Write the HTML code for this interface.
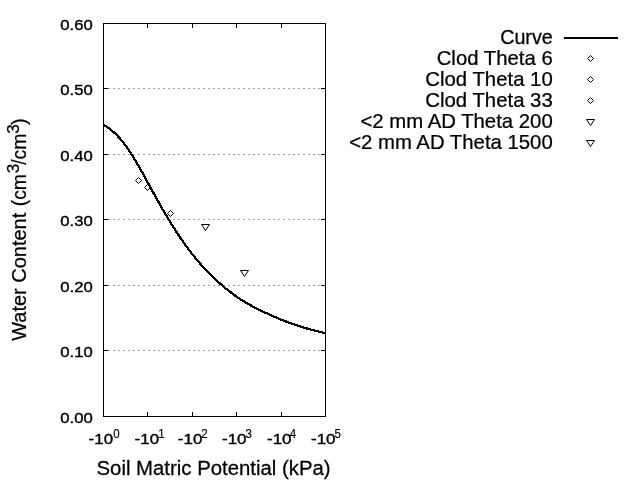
<!DOCTYPE html>
<html><head><meta charset="utf-8"><title>Water Retention Curve</title>
<style>
html,body{margin:0;padding:0;background:#fff;}
body{width:640px;height:480px;overflow:hidden;}
svg{display:block;font-family:"Liberation Sans",Arial,sans-serif;fill:#000;}
.ax{stroke:#000;stroke-width:1;fill:none;shape-rendering:crispEdges;}
.grid{stroke:#a0a0a0;stroke-width:1;stroke-dasharray:2 3;fill:none;shape-rendering:crispEdges;}
.mk{stroke:#000;stroke-width:1;fill:none;}
text{stroke:#000;stroke-width:0.25;}
.tk{stroke-width:0.4;}
.sp{stroke-width:0.15;}
</style></head><body>
<svg width="640" height="480" viewBox="0 0 640 480">
<rect x="0" y="0" width="640" height="480" fill="#fff"/>
<line class="grid" x1="108" y1="350.5" x2="321" y2="350.5"/>
<line class="grid" x1="108" y1="285.5" x2="321" y2="285.5"/>
<line class="grid" x1="108" y1="219.5" x2="321" y2="219.5"/>
<line class="grid" x1="108" y1="154.5" x2="321" y2="154.5"/>
<line class="grid" x1="108" y1="88.5" x2="321" y2="88.5"/>
<rect class="ax" x="103.5" y="23.5" width="222.0" height="393.0"/>
<line class="ax" x1="103.5" y1="416.5" x2="108.0" y2="416.5"/>
<line class="ax" x1="325.5" y1="416.5" x2="321.0" y2="416.5"/>
<text class="tk" transform="translate(92.7,422.5) scale(1.09,1)" font-size="15.3" text-anchor="end">0.00</text>
<line class="ax" x1="103.5" y1="350.5" x2="108.0" y2="350.5"/>
<line class="ax" x1="325.5" y1="350.5" x2="321.0" y2="350.5"/>
<text class="tk" transform="translate(92.7,356.5) scale(1.09,1)" font-size="15.3" text-anchor="end">0.10</text>
<line class="ax" x1="103.5" y1="285.5" x2="108.0" y2="285.5"/>
<line class="ax" x1="325.5" y1="285.5" x2="321.0" y2="285.5"/>
<text class="tk" transform="translate(92.7,291.5) scale(1.09,1)" font-size="15.3" text-anchor="end">0.20</text>
<line class="ax" x1="103.5" y1="219.5" x2="108.0" y2="219.5"/>
<line class="ax" x1="325.5" y1="219.5" x2="321.0" y2="219.5"/>
<text class="tk" transform="translate(92.7,225.5) scale(1.09,1)" font-size="15.3" text-anchor="end">0.30</text>
<line class="ax" x1="103.5" y1="154.5" x2="108.0" y2="154.5"/>
<line class="ax" x1="325.5" y1="154.5" x2="321.0" y2="154.5"/>
<text class="tk" transform="translate(92.7,160.5) scale(1.09,1)" font-size="15.3" text-anchor="end">0.40</text>
<line class="ax" x1="103.5" y1="88.5" x2="108.0" y2="88.5"/>
<line class="ax" x1="325.5" y1="88.5" x2="321.0" y2="88.5"/>
<text class="tk" transform="translate(92.7,94.5) scale(1.09,1)" font-size="15.3" text-anchor="end">0.50</text>
<line class="ax" x1="103.5" y1="23.5" x2="108.0" y2="23.5"/>
<line class="ax" x1="325.5" y1="23.5" x2="321.0" y2="23.5"/>
<text class="tk" transform="translate(92.7,29.5) scale(1.09,1)" font-size="15.3" text-anchor="end">0.60</text>
<line class="ax" x1="103.5" y1="23.5" x2="103.5" y2="28.0"/>
<line class="ax" x1="103.5" y1="416.5" x2="103.5" y2="412.0"/>
<text class="tk" transform="translate(88.6,443.5) scale(1.095,1)" font-size="15.5">-10</text>
<text class="sp" transform="translate(113.2,437.6) scale(0.92,1)" font-size="12.5">0</text>
<line class="ax" x1="147.5" y1="23.5" x2="147.5" y2="28.0"/>
<line class="ax" x1="147.5" y1="416.5" x2="147.5" y2="412.0"/>
<text class="tk" transform="translate(134.6,443.5) scale(1.095,1)" font-size="15.5">-10</text>
<text class="sp" transform="translate(158.2,437.6) scale(0.92,1)" font-size="12.5">1</text>
<line class="ax" x1="192.5" y1="23.5" x2="192.5" y2="28.0"/>
<line class="ax" x1="192.5" y1="416.5" x2="192.5" y2="412.0"/>
<text class="tk" transform="translate(177.8,443.5) scale(1.095,1)" font-size="15.5">-10</text>
<text class="sp" transform="translate(201.2,437.6) scale(0.92,1)" font-size="12.5">2</text>
<line class="ax" x1="236.5" y1="23.5" x2="236.5" y2="28.0"/>
<line class="ax" x1="236.5" y1="416.5" x2="236.5" y2="412.0"/>
<text class="tk" transform="translate(222.0,443.5) scale(1.095,1)" font-size="15.5">-10</text>
<text class="sp" transform="translate(245.4,437.6) scale(0.92,1)" font-size="12.5">3</text>
<line class="ax" x1="281.5" y1="23.5" x2="281.5" y2="28.0"/>
<line class="ax" x1="281.5" y1="416.5" x2="281.5" y2="412.0"/>
<text class="tk" transform="translate(267.0,443.5) scale(1.095,1)" font-size="15.5">-10</text>
<text class="sp" transform="translate(289.7,437.6) scale(0.92,1)" font-size="12.5">4</text>
<line class="ax" x1="325.5" y1="23.5" x2="325.5" y2="28.0"/>
<line class="ax" x1="325.5" y1="416.5" x2="325.5" y2="412.0"/>
<text class="tk" transform="translate(311.0,443.5) scale(1.095,1)" font-size="15.5">-10</text>
<text class="sp" transform="translate(334.4,437.6) scale(0.92,1)" font-size="12.5">5</text>
<path d="M103.50,124.90 L105.72,126.20 L107.94,127.66 L110.16,129.27 L112.38,131.06 L114.60,133.03 L116.82,135.18 L119.04,137.52 L121.26,140.05 L123.48,142.77 L125.70,145.67 L127.92,148.81 L130.14,152.11 L132.36,155.57 L134.58,159.17 L136.80,162.90 L139.02,166.73 L141.24,170.65 L143.46,174.64 L145.68,178.69 L147.90,182.76 L150.12,186.81 L152.34,190.85 L154.56,194.88 L156.78,198.89 L159.00,202.86 L161.22,206.78 L163.44,210.65 L165.66,214.45 L167.88,218.19 L170.10,221.85 L172.32,225.44 L174.54,228.95 L176.76,232.38 L178.98,235.73 L181.20,239.00 L183.42,242.18 L185.64,245.28 L187.86,248.30 L190.08,251.23 L192.30,254.09 L194.52,256.87 L196.74,259.57 L198.96,262.19 L201.18,264.73 L203.40,267.21 L205.62,269.61 L207.84,271.94 L210.06,274.21 L212.28,276.41 L214.50,278.54 L216.72,280.61 L218.94,282.62 L221.16,284.57 L223.38,286.47 L225.60,288.30 L227.82,290.09 L230.04,291.81 L232.26,293.49 L234.48,295.12 L236.70,296.70 L238.92,298.18 L241.14,299.62 L243.36,301.02 L245.58,302.37 L247.80,303.68 L250.02,304.95 L252.24,306.18 L254.46,307.37 L256.68,308.52 L258.90,309.64 L261.12,310.73 L263.34,311.78 L265.56,312.79 L267.78,313.78 L270.00,314.73 L272.22,315.76 L274.44,316.75 L276.66,317.72 L278.88,318.66 L281.10,319.57 L283.32,320.46 L285.54,321.32 L287.76,322.16 L289.98,322.98 L292.20,323.77 L294.42,324.54 L296.64,325.29 L298.86,326.01 L301.08,326.72 L303.30,327.40 L305.52,328.07 L307.74,328.71 L309.96,329.34 L312.18,329.95 L314.40,330.55 L316.62,331.13 L318.84,331.69 L321.06,332.24 L323.28,332.77 L325.50,333.29" stroke="#000" stroke-width="2.25" fill="none" stroke-linejoin="round" shape-rendering="crispEdges"/>
<path class="mk" d="M135.5,180.5 L138.5,177.5 L141.5,180.5 L138.5,183.5 Z"/>
<path class="mk" d="M144.5,187.5 L147.5,184.5 L150.5,187.5 L147.5,190.5 Z"/>
<path class="mk" d="M167.5,213.5 L170.5,210.5 L173.5,213.5 L170.5,216.5 Z"/>
<path class="mk" d="M201.5,224.5 L209.5,224.5 L205.5,230.5 Z"/>
<path class="mk" d="M240.5,270.5 L248.5,270.5 L244.5,276.5 Z"/>
<text transform="translate(552.7,44.2) scale(0.985,1)" font-size="20" text-anchor="end">Curve</text>
<line x1="564" y1="38" x2="618" y2="38" stroke="#000" stroke-width="2" shape-rendering="crispEdges"/>
<text transform="translate(552.7,65.2) scale(1.017,1)" font-size="20" text-anchor="end">Clod Theta 6</text>
<path class="mk" d="M587.5,58.5 L590.5,55.5 L593.5,58.5 L590.5,61.5 Z"/>
<text transform="translate(552.7,86.2) scale(1.017,1)" font-size="20" text-anchor="end">Clod Theta 10</text>
<path class="mk" d="M587.5,79.5 L590.5,76.5 L593.5,79.5 L590.5,82.5 Z"/>
<text transform="translate(552.7,107.2) scale(1.017,1)" font-size="20" text-anchor="end">Clod Theta 33</text>
<path class="mk" d="M587.5,100.5 L590.5,97.5 L593.5,100.5 L590.5,103.5 Z"/>
<text transform="translate(552.7,128.2) scale(1.017,1)" font-size="20" text-anchor="end">&lt;2 mm AD Theta 200</text>
<path class="mk" d="M586.5,119.5 L594.5,119.5 L590.5,125.5 Z"/>
<text transform="translate(552.7,149.2) scale(1.017,1)" font-size="20" text-anchor="end">&lt;2 mm AD Theta 1500</text>
<path class="mk" d="M586.5,140.5 L594.5,140.5 L590.5,146.5 Z"/>
<text transform="translate(96.5,474.8) scale(1.018,1)" font-size="20">Soil Matric Potential (kPa)</text>
<g transform="translate(26,340.8) rotate(-90)">
<text transform="translate(0,0) scale(0.999,1)" font-size="20">Water Content</text>
<text transform="translate(134.5,0) scale(0.967,1)" font-size="20">(cm</text>
<text transform="translate(167.5,-7) scale(1.0,1)" font-size="17">3</text>
<text transform="translate(176,0) scale(0.967,1)" font-size="20">/cm</text>
<text transform="translate(207,-7) scale(1.0,1)" font-size="17">3</text>
<text transform="translate(215.7,0) scale(1.0,1)" font-size="20">)</text>
</g>
</svg></body></html>
